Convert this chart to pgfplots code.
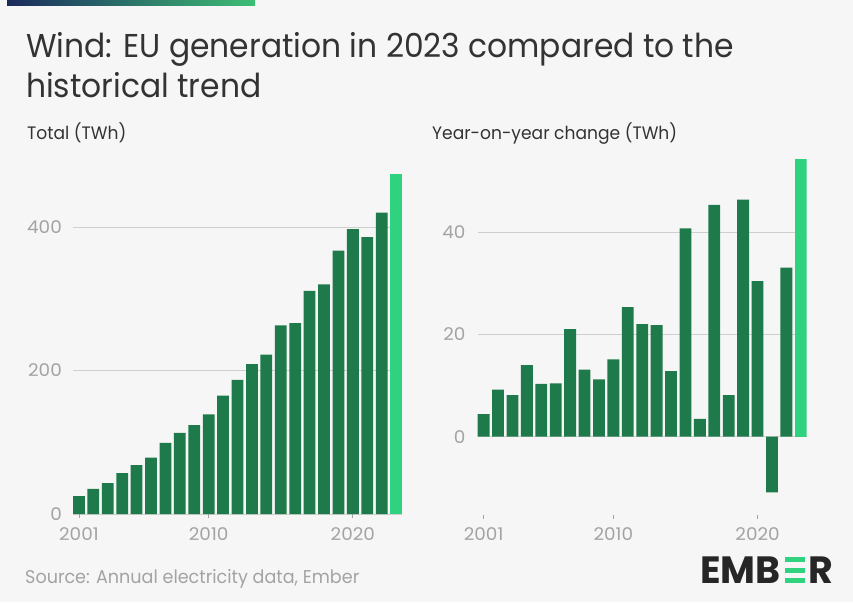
\documentclass[border=0pt]{standalone}
\usepackage{fontspec}
\setmainfont{Poppins}[FakeStretch=0.95]
\newfontfamily\tickfont{Poppins}[FakeStretch=1.05]
\newfontfamily\logofont{Poppins}[FakeStretch=1.0]
\usepackage{pgfplots}
\usepackage{pgfplotstable}
\pgfplotsset{compat=1.18}
\definecolor{bg}{HTML}{F6F6F6}
\definecolor{dg}{HTML}{1F7A4B}
\definecolor{lg}{HTML}{2FD27F}
\definecolor{tickgray}{HTML}{A3A3A3}
\definecolor{gridgray}{HTML}{CFCFCF}
\definecolor{txt}{HTML}{333333}
\definecolor{navy}{HTML}{1B2A5E}
\definecolor{topgreen}{HTML}{3DBE74}

\pgfplotstableread{
year total
2001 25
2002 35
2003 43
2004 57
2005 68
2006 78.5
2007 99
2008 113
2009 124
2010 139
2011 165
2012 187
2013 209
2014 222
2015 263
2016 266
2017 311
2018 320
2019 367
2020 397
2021 386
2022 420
}\totaldata
\pgfplotstableread{
year total
2023 474
}\totallast
\pgfplotstableread{
year change
2001 4.4
2002 9.2
2003 8.1
2004 14.0
2005 10.3
2006 10.4
2007 21.0
2008 13.1
2009 11.2
2010 15.1
2011 25.3
2012 22.0
2013 21.8
2014 12.8
2015 40.7
2016 3.5
2017 45.3
2018 8.1
2019 46.3
2020 30.4
2021 -10.9
2022 33.0
}\changedata
\pgfplotstableread{
year change
2023 54.3
}\changelast

\pgfplotsset{
  emberaxis/.style={
    scale only axis,
    width=329pt,
    xmin=2000.59, xmax=2023.41,
    axis line style={draw=none},
    xtick={2001,2010,2020},
    xtick pos=bottom,
    ytick pos=left,
    ytick style={draw=none},
    xtick style={draw=tickgray, line width=0.8pt},
    major tick length=4pt,
    ymajorgrids=true,
    grid style={gridgray, line width=0.8pt},
    /pgf/number format/.cd, 1000 sep={}, assume math mode=true,
    /pgfplots/.cd,
    tick label style={font=\tickfont\fontsize{17.5}{17.5}\selectfont, text=tickgray},
    yticklabel style={anchor=east, inner sep=0pt},
  },
  emberbar/.style={ybar, bar width=0.82, bar shift=0pt, draw=none, fill=#1},
}

\begin{document}
\begin{tikzpicture}
\fill[bg] (0,0) rectangle (853pt,602pt);
\shade[left color=navy, right color=topgreen] (7pt,596pt) rectangle (255pt,601pt);
\node[anchor=base west, inner sep=0pt, text=txt, font=\fontsize{33}{40}\selectfont] at (26pt,544pt) {Wind: EU generation in 2023 compared to the};
\node[anchor=base west, inner sep=0pt, text=txt, font=\fontsize{33}{40}\selectfont] at (26pt,504pt) {historical trend};
\node[anchor=base west, inner sep=0pt, text=txt, font=\fontsize{18}{20}\selectfont] at (27pt,462pt) {Total (TWh)};
\node[anchor=base west, inner sep=0pt, text=txt, font=\fontsize{18}{20}\selectfont] at (432pt,462pt) {Year-on-year change (TWh)};

\begin{axis}[emberaxis, at={(73pt,88pt)}, anchor=south west,
  height=344.4pt, ymin=0, ymax=480, ytick={0,200,400},
  tick align=outside,
  xticklabel style={anchor=base, yshift=-22.7pt},
  yticklabel style={xshift=-7pt}]
  \addplot[emberbar=dg] table[x=year,y=total] {\totaldata};
  \addplot[emberbar=lg] table[x=year,y=total] {\totallast};
\end{axis}

\begin{axis}[emberaxis, at={(477.7pt,83.4pt)}, anchor=south west,
  height=368.6pt, ymin=-16, ymax=56, ytick={0,20,40},
  tick align=inside,
  xticklabel style={anchor=base, yshift=-22.1pt},
  yticklabel style={xshift=-12pt}]
  \addplot[emberbar=dg] table[x=year,y=change] {\changedata};
  \addplot[emberbar=lg] table[x=year,y=change] {\changelast};
\end{axis}

\node[anchor=base west, inner sep=0pt, text=tickgray, font=\fontsize{18.5}{18.5}\selectfont] at (25pt,18.7pt) {Source: Annual electricity data, Ember};

\node[anchor=base west, inner sep=0pt, text=black!85, font=\logofont\fontsize{38}{38}\selectfont\bfseries] (emb) at (700pt,18.7pt) {EMB};
\fill[lg] ([xshift=4pt]emb.base east) rectangle ++(20pt,5pt);
\fill[lg] ([xshift=4pt,yshift=10.6pt]emb.base east) rectangle ++(20pt,5pt);
\fill[lg] ([xshift=4pt,yshift=21.6pt]emb.base east) rectangle ++(20pt,5pt);
\node[anchor=base west, inner sep=0pt, text=black!85, font=\logofont\fontsize{38}{38}\selectfont\bfseries] at ([xshift=27pt]emb.base east) {R};
\end{tikzpicture}
\end{document}
